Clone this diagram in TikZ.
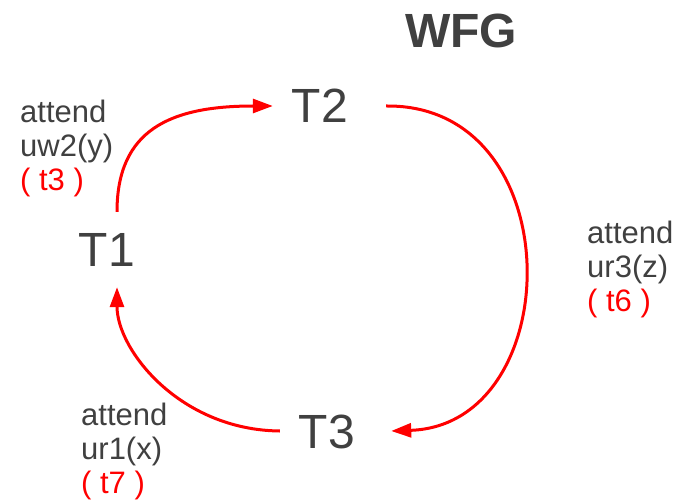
\documentclass[tikz,border=0pt]{standalone}
\usepackage{fontspec}
\setmainfont{Liberation Sans}
\usetikzlibrary{arrows.meta}
\definecolor{ink}{RGB}{64,64,64}

\begin{document}
\begin{tikzpicture}[x=1pt,y=-1pt,
  txn/.style={text=ink,inner sep=0pt,text height=34pt,text depth=0pt,
    font=\fontsize{48}{56}\selectfont},
  note/.style={text=ink,inner sep=0pt,align=left,anchor=base west,
    font=\fontsize{31}{34}\selectfont},
  wait/.style={red,line width=3pt,-{Triangle[length=20pt,width=14pt]}}]
\useasboundingbox (0,0) rectangle (693,502);
\node[txn,font=\bfseries\fontsize{48}{56}\selectfont] (wfg) at (461,31) {WFG};
% transactions
\node[txn] (t1) at (107,250) {T1};
\node[txn] (t2) at (320,106) {T2};
\node[txn] (t3) at (327,431) {T3};
% wait-for edges
\draw[wait] ([xshift=10pt,yshift=21pt]t1.north) .. controls (117,130) and (170,106) .. ([xshift=-19pt]t2.west);
\draw[wait] ([xshift=38pt]t2.east) .. controls (572,104) and (568,425) .. ([xshift=36pt]t3.east);
\draw[wait] ([xshift=-19pt]t3.west) .. controls (180,430) and (117,350) .. ([xshift=10pt,yshift=-20pt]t1.south);
% edge labels (anchored on the last line)
\node[note] (n12) at (20,191) {attend\\uw2(y)\\\textcolor{red}{( t3 )}};
\node[note] (n23) at (587,312) {attend\\ur3(z)\\\textcolor{red}{( t6 )}};
\node[note] (n31) at (81,493) {attend\\ur1(x)\\\textcolor{red}{( t7 )}};
\end{tikzpicture}
\end{document}
